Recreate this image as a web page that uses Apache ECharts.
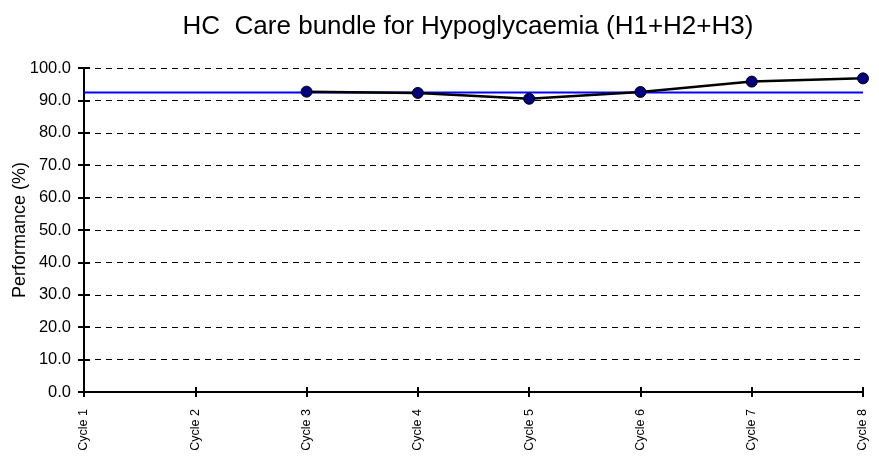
<!DOCTYPE html>
<html>
<head>
<meta charset="utf-8">
<script src="https://cdn.jsdelivr.net/npm/echarts@6/dist/echarts.min.js"></script>
<style>
html,body{margin:0;padding:0;background:#fff;}
#chart{width:879px;height:458px;}
</style>
</head>
<body>
<div id="chart"></div>
<script>
// Audit cycles and bundle compliance (%)
const cycles = ['Cycle 1','Cycle 2','Cycle 3','Cycle 4','Cycle 5','Cycle 6','Cycle 7','Cycle 8'];
const performance = [null, null, 92.7, 92.3, 90.5, 92.6, 95.8, 96.8];
const targetValue = 92.45;
const target = cycles.map(() => targetValue);

const font = 'Liberation Sans, Arial, sans-serif';
const chart = echarts.init(document.getElementById('chart'));
chart.setOption({
  animation: false,
  backgroundColor: '#fff',
  title: {
    text: 'HC  Care bundle for Hypoglycaemia (H1+H2+H3)',
    left: 463, textAlign: 'center', top: 9,
    textStyle: {fontFamily: font, fontSize: 26, fontWeight: 'normal', color: '#000'}
  },
  grid: {left: 84, right: 16, top: 68, bottom: 66, containLabel: false, outerBoundsMode: 'none'},
  xAxis: [{
    type: 'category', data: cycles, boundaryGap: false,
    axisLine: {lineStyle: {color: '#000', width: 2}},
    axisTick: {show: true, alignWithLabel: true, length: 5, lineStyle: {color: '#000', width: 2}},
    axisLabel: {rotate: 90, fontFamily: font, fontSize: 12.5, color: '#000', margin: 17, interval: 0},
    splitLine: {show: false}
  }, {
    type: 'category', data: cycles, boundaryGap: false, position: 'bottom',
    axisLine: {show: false},
    axisTick: {show: true, inside: true, length: 5, lineStyle: {color: '#000', width: 2}},
    axisLabel: {show: false}
  }],
  yAxis: [{
    type: 'value', min: 0, max: 100, interval: 10,
    name: 'Performance (%)', nameLocation: 'middle', nameGap: 55, nameMoveOverlap: false,
    nameTextStyle: {fontFamily: font, fontSize: 18, color: '#000'},
    axisLine: {show: true, lineStyle: {color: '#000', width: 2}},
    axisTick: {show: true, length: 6, lineStyle: {color: '#000', width: 2}},
    axisLabel: {formatter: v => v.toFixed(1), fontFamily: font, fontSize: 16.5, color: '#000', margin: 13},
    splitLine: {show: true, lineStyle: {color: '#000', width: 1, type: [6, 5]}}
  }, {
    type: 'value', min: 0, max: 100, interval: 10, position: 'left',
    axisLine: {show: false},
    axisTick: {show: true, inside: true, length: 6, lineStyle: {color: '#000', width: 2}},
    axisLabel: {show: false},
    splitLine: {show: false}
  }],
  series: [{
    name: 'Target', type: 'line', data: target,
    symbol: 'none', lineStyle: {color: '#0000ff', width: 2}, z: 2
  }, {
    name: 'Performance', type: 'line', data: performance,
    symbol: 'circle', symbolSize: 11,
    itemStyle: {color: '#000080', borderColor: '#000', borderWidth: 1},
    lineStyle: {color: '#000', width: 2.5}, z: 3
  }]
});
</script>
</body>
</html>
